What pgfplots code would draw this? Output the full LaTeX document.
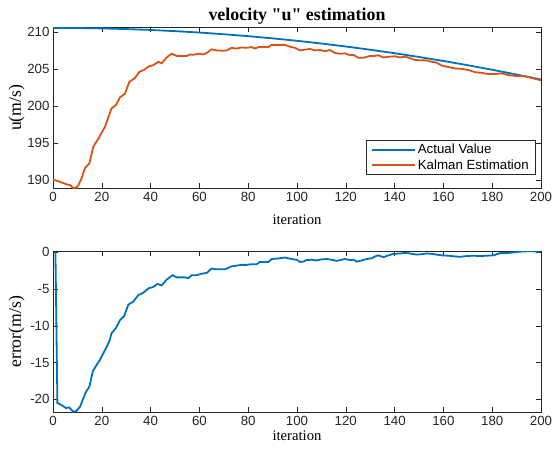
\documentclass[border=0pt]{standalone}
\usepackage{fontspec}
\setmainfont{Liberation Serif}[Ligatures=TeXOff]
\setsansfont{Liberation Sans}
\usepackage{pgfplots}
\pgfplotsset{compat=1.18}

\definecolor{mblue}{rgb}{0,0.447,0.741}
\definecolor{morange}{rgb}{0.85,0.325,0.098}
\definecolor{axgray}{rgb}{0.15,0.15,0.15}

\pgfplotsset{
  mstyle/.style={
    scale only axis, width=488bp, height=161bp,
    anchor=south west,
    xmin=0, xmax=200, xtick={0,20,...,200},
    tick align=inside, major tick length=5bp,
    axis line style={axgray, line width=0.6bp},
    every tick/.style={axgray, line width=0.6bp},
    tick label style={font=\fontsize{13.3bp}{15bp}\sffamily, text=axgray},
    /pgf/number format/assume math mode=true,
    xlabel style={font=\fontsize{14.7bp}{17bp}\selectfont, anchor=base},
    ylabel style={font=\fontsize{17.7bp}{20bp}\selectfont, anchor=base,
      at={(axis description cs:-0.0656,0.5)}},
    every axis plot/.append style={line width=1.8bp},
  }
}

\begin{document}
\begin{tikzpicture}
\path[use as bounding box] (0,0) rectangle (552bp,452bp);

% upper panel: actual vs kalman
\begin{axis}[mstyle, at={(53bp,263.7bp)},
  ymin=188.87, ymax=210.68, ytick={190,195,...,210},
  xlabel={iteration}, ylabel={u(m/s)},
  xlabel style={at={(axis description cs:0.5,-0.222)}},
  title={velocity "u" estimation},
  every axis title shift=0pt,
  title style={font=\fontsize{17.9bp}{20bp}\bfseries, at={(axis description cs:0.5,1)}, anchor=base, yshift=6.6bp},
  legend style={at={(axis description cs:0.9898,0.300)}, anchor=north east,
    draw=axgray, line width=0.6bp, font=\fontsize{13.3bp}{15bp}\sffamily,
    inner xsep=5bp, inner ysep=2bp, cells={anchor=west}},
  legend image code/.code={\draw[#1] (0bp,0bp) -- (43bp,0bp);},
]
\addplot[mblue, no markers] coordinates {
(0,210.60) (10,210.58) (20,210.53) (30,210.44) (40,210.32) (50,210.16)
(60,209.97) (70,209.74) (80,209.48) (90,209.18) (100,208.85) (110,208.48)
(120,208.08) (130,207.64) (140,207.17) (150,206.66) (160,206.12) (170,205.54)
(180,204.93) (190,204.28) (200,203.60)};
\addlegendentry{Actual Value}
\addplot[morange, no markers] coordinates {
(0,190.05) (2,189.85) (4,189.6) (5.6,189.4) (7,189.3) (8.3,188.9) (9.5,188.95)
(10.4,189.3) (11.7,190.2) (13.1,191.6) (14.9,192.25) (16.5,194.5) (18.6,195.6)
(21.3,197.2) (24.0,199.7) (25.8,200.15) (27.5,201.2) (29.5,201.7) (31.3,203.3)
(33.6,203.8) (35.4,204.65) (37.3,204.9) (39.1,205.35) (41.1,205.55) (43.2,206.0)
(44.5,205.8) (46.6,206.6) (48.6,207.1) (50.7,206.8) (54.8,206.8) (56.2,207.0)
(57.5,206.95) (59.6,207.1) (61.6,207.0) (63,207.2) (65,207.7) (67.1,207.55)
(69.8,207.5) (71.2,207.55) (73.2,207.9) (75.3,207.8) (77.3,207.95) (79.4,207.9)
(81.4,208.0) (82.8,207.8) (84.2,208.0) (86.2,208.0) (88.3,208.0) (89.6,208.3)
(91.7,208.3) (95.1,208.3) (97.1,208.05) (99.2,207.9) (101.2,207.55) (103.3,207.65)
(105.3,207.75) (107.4,207.55) (109.4,207.6) (111.5,207.45) (113.5,207.6)
(115.6,207.2) (117.6,207.1) (119.7,207.15) (121.7,206.9) (123.1,206.95)
(125.1,206.55) (127.2,206.55) (129.9,206.8) (132,206.8) (133.3,206.9)
(135.4,206.6) (138.1,206.7) (140.2,206.75) (142.2,206.6) (144.3,206.7)
(146.3,206.5) (148.4,206.25) (151.1,206.2) (153.1,206.2) (155.2,206.0)
(157.2,205.9) (159.3,205.5) (162,205.3) (164.8,205.1) (167.5,205.05)
(170.2,204.9) (172.9,204.6) (175.7,204.5) (178.4,204.35) (181.1,204.35)
(183.9,204.45) (186.6,204.2) (189.3,204.1) (192.1,204.1) (194.8,203.95)
(197.5,203.7) (200,203.5)};
\addlegendentry{Kalman Estimation}
\end{axis}

% lower panel: error
\begin{axis}[mstyle, at={(53bp,39.7bp)},
  ymin=-21.77, ymax=0.15, ytick={-20,-15,...,0},
  xlabel={iteration}, ylabel={error(m/s)},
  xlabel style={at={(axis description cs:0.5,-0.1764)}},
]
\addplot[mblue, no markers] coordinates {
(1,0.1) (1.8,-20.5) (3.6,-20.8) (5.3,-21.2) (6.6,-21.1) (8.3,-21.7) (9.6,-21.6)
(11.1,-21.0) (12.4,-19.9) (13.5,-19.0) (14.9,-18.3) (16.3,-16.2) (17.9,-15.3)
(19.3,-14.6) (21.3,-13.3) (23.1,-12.1) (24.0,-11.0) (25.8,-10.3) (27.5,-9.2)
(29.1,-8.7) (30.9,-7.1) (32.9,-6.7) (35.0,-5.8) (37.0,-5.5) (39.1,-4.9)
(41.1,-4.7) (42.8,-4.3) (44.5,-4.5) (46.6,-3.7) (49.0,-3.1) (50.7,-3.4)
(54.1,-3.4) (55.5,-3.5) (56.9,-3.1) (58.9,-3.1) (60.9,-2.9) (63,-2.8)
(65.0,-2.2) (67.0,-2.3) (70.5,-2.3) (73.2,-1.9) (75.2,-1.8) (77.3,-1.7)
(79.3,-1.7) (81.4,-1.6) (83.5,-1.6) (84.8,-1.3) (86.9,-1.3) (88.3,-1.3)
(89.6,-0.9) (91.7,-0.85) (95.1,-0.7) (97.8,-0.9) (99.9,-1.0) (101.2,-1.3)
(102.6,-1.25) (103.9,-1.05) (106,-1.0) (108,-1.1) (110.1,-0.95) (112.2,-0.9)
(114.2,-1.0) (116.3,-1.15) (118.3,-1.0) (119.7,-0.9) (121.7,-1.05) (123.1,-1.0)
(124.5,-1.25) (126.5,-1.1) (128.6,-0.9) (130.6,-0.8) (132,-0.55) (133.3,-0.4)
(135.4,-0.65) (137.5,-0.4) (139.5,-0.2) (142.2,-0.15) (144.9,-0.05) (147,-0.2)
(149,-0.3) (151.1,-0.25) (153.1,-0.15) (155.2,-0.2) (157.2,-0.3) (159.3,-0.4)
(162,-0.45) (164.8,-0.55) (166.8,-0.6) (169.5,-0.5) (172.3,-0.45) (175,-0.5)
(177.7,-0.45) (180.5,-0.4) (183.2,-0.1) (185.9,-0.1) (188.7,0.0) (191.4,0.1)
(194.1,0.15) (196.9,0.15) (199.6,0.05)};
\end{axis}
\end{tikzpicture}
\end{document}
